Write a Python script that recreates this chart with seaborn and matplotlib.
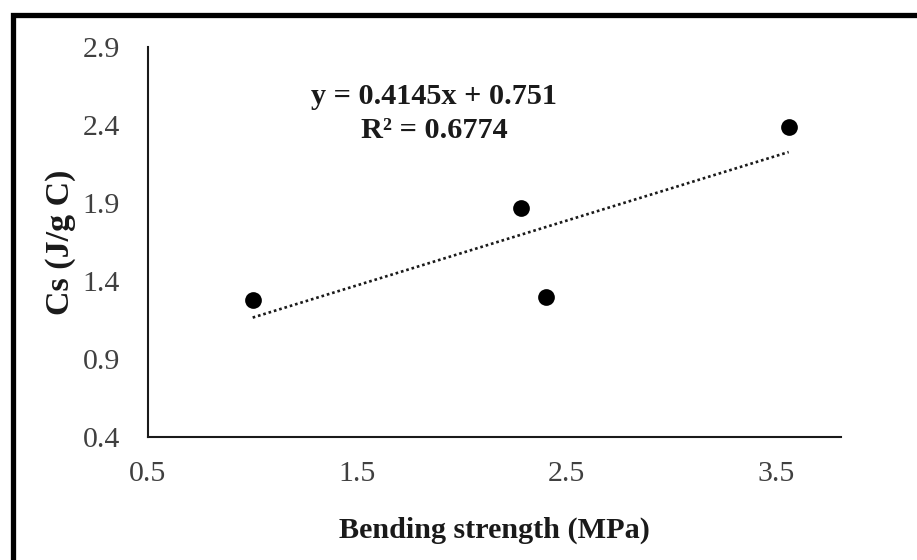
import matplotlib
matplotlib.use("Agg")
import matplotlib.pyplot as plt
from matplotlib.patches import Rectangle
import numpy as np
import pandas as pd
import seaborn as sns

# Data
bending_strength = [1.0, 2.28, 2.40, 3.56]
cs_values = [1.28, 1.87, 1.30, 2.39]
trend_slope = 0.4145
trend_intercept = 0.751
r_squared = 0.6774
x_ticks = [0.5, 1.5, 2.5, 3.5]
y_ticks = [0.4, 0.9, 1.4, 1.9, 2.4, 2.9]

sns.set_theme(style="white")
plt.rcParams["font.family"] = ["Liberation Serif", "DejaVu Serif"]

df = pd.DataFrame({"x": bending_strength, "y": cs_values})
xs = np.array([min(bending_strength), max(bending_strength)])
trend = pd.DataFrame({"x": xs, "y": trend_slope * xs + trend_intercept})

fig = plt.figure(figsize=(9.17, 5.6), dpi=100)
ax = fig.add_axes([148 / 917, 1 - 437 / 560, (841 - 148) / 917, (437 - 47) / 560])

sns.lineplot(data=trend, x="x", y="y", ax=ax, color="#1a1a1a", lw=1.9,
             linestyle=(0, (1, 1.1)), dash_capstyle="butt")
sns.scatterplot(data=df, x="x", y="y", ax=ax, color="black", s=145,
                edgecolor="black", linewidth=0, zorder=5)

ax.set_xlim(0.5, 3.81)
ax.set_ylim(0.4, 2.9)
ax.set_xticks(x_ticks)
ax.set_yticks(y_ticks)
ax.set_xticklabels([f"{v:.1f}" for v in x_ticks])
ax.set_yticklabels([f"{v:.1f}" for v in y_ticks])
ax.tick_params(axis="both", length=0, labelsize=21.5, labelcolor="#404040")
ax.tick_params(axis="x", pad=17)
ax.tick_params(axis="y", pad=20)

for side in ["top", "right"]:
    ax.spines[side].set_visible(False)
for side in ["left", "bottom"]:
    ax.spines[side].set_color("#1a1a1a")
    ax.spines[side].set_linewidth(1.5)

ax.set_xlabel("Bending strength (MPa)", fontsize=21.7, fontweight="bold", color="#1a1a1a")
ax.set_ylabel("Cs (J/g C)", fontsize=24.5, fontweight="bold", color="#1a1a1a")
ax.xaxis.set_label_coords(0.5, -0.205)
ax.yaxis.set_label_coords(-0.104, 0.5)

ax.text(0.413, (437 - 97) / 390, f"y = {trend_slope}x + {trend_intercept}",
        transform=ax.transAxes, ha="center", va="center", fontsize=21.8,
        fontweight="bold", color="#1a1a1a")
ax.text(0.413, (437 - 130) / 390, f"R² = {r_squared}",
        transform=ax.transAxes, ha="center", va="center", fontsize=21.8,
        fontweight="bold", color="#1a1a1a")

# Outer frame (extends beyond right/bottom edges as in the reference)
fig.add_artist(Rectangle((13 / 917, -0.2), 1.5, 1 - 14.5 / 560 + 0.2,
                         transform=fig.transFigure, fill=False, lw=3.8,
                         edgecolor="black", clip_on=False))

fig.savefig("out.png", dpi=100)
